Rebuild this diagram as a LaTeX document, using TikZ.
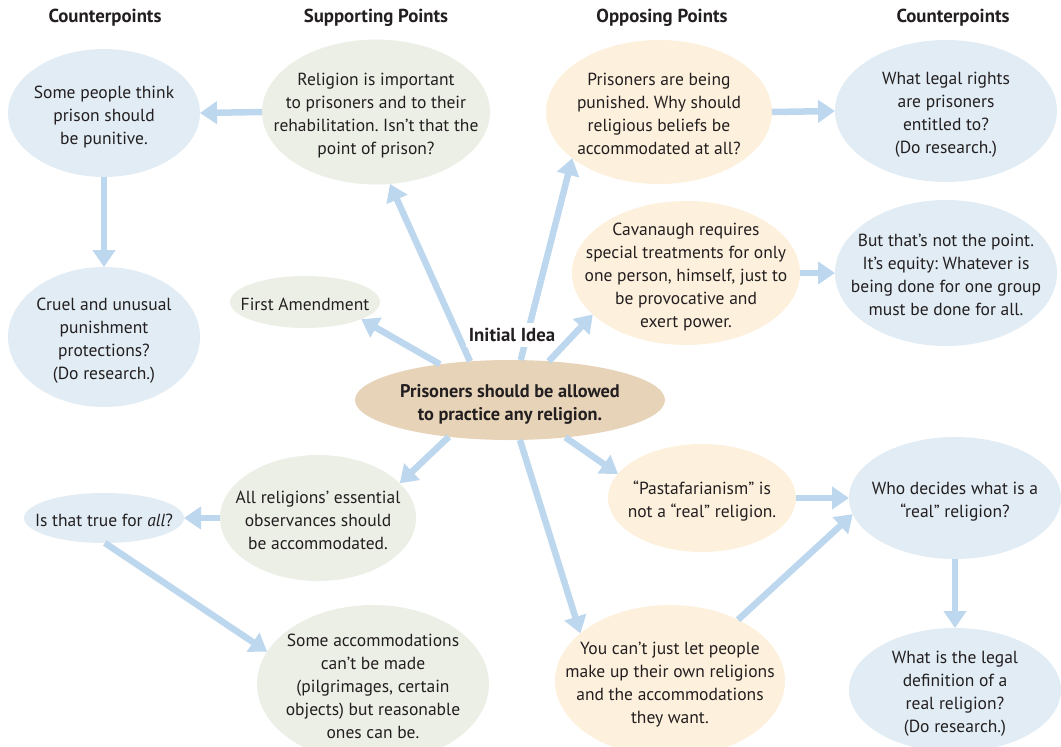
\documentclass[tikz,border=0pt]{standalone}
\usepackage{fontspec}
\setmainfont{PT Sans}
\usetikzlibrary{arrows.meta,shapes.geometric}
\frenchspacing

\definecolor{ink}{HTML}{231F20}
\definecolor{bluefill}{HTML}{E1ECF4}
\definecolor{greenfill}{HTML}{ECEFE6}
\definecolor{orangefill}{HTML}{FDF0DC}
\definecolor{tanfill}{HTML}{E6D3B8}
\definecolor{arrowblue}{HTML}{BDD7EE}

% centred multi-line text that does not widen its ellipse
\newcommand\bubtext[1]{\makebox[0pt]{\raisebox{-0.45em}{\begin{tabular}{@{}c@{}}#1\end{tabular}}}}

\tikzset{
  bub/.style={ellipse, inner sep=0pt, outer sep=0pt, text height=0pt, text depth=0pt,
    text=ink, font=\fontsize{17.5}{23}\selectfont},
  blueb/.style={bub, fill=bluefill},
  greenb/.style={bub, fill=greenfill},
  orangeb/.style={bub, fill=orangefill},
  head/.style={text=ink, font=\fontsize{18.8}{22}\selectfont\bfseries},
  arr/.style={draw=arrowblue, line width=6.5pt,
    -{Triangle[length=17pt,width=22pt]}},
}

\begin{document}
\begin{tikzpicture}[x=1pt,y=-1pt]
\path[use as bounding box] (0,0) rectangle (1061,747);
\clip (0,0) rectangle (1061,747);

% column headings
\node[head] (hcl) at (105,18) {Counterpoints};
\node[head] (hsp) at (376,18) {Supporting Points};
\node[head] (hop) at (662,18) {Opposing Points};
\node[head] (hcr) at (953,18) {Counterpoints};

% top row
\node[blueb, minimum width=192, minimum height=128] (cpL) at (104,113)
  {\bubtext{Some people think\\prison should\\be punitive.}};
\node[greenb, minimum width=228, minimum height=145] (sup) at (376,112)
  {\bubtext{Religion is important\\to prisoners and to their\\rehabilitation. Isn’t that the\\point of prison?}};
\node[orangeb, minimum width=226, minimum height=144] (opp) at (659,112)
  {\bubtext{Prisoners are being\\punished. Why should\\religious beliefs be\\accommodated at all?}};
\node[blueb, minimum width=222, minimum height=142] (cpR) at (946,111)
  {\bubtext{What legal rights\\are prisoners\\entitled to?\\(Do research.)}};

% middle row
\node[blueb, minimum width=192, minimum height=140] (cruel) at (104,337)
  {\bubtext{Cruel and unusual\\punishment\\protections?\\(Do research.)}};
\node[greenb, minimum width=150, minimum height=52] (first) at (305,302)
  {\bubtext{First Amendment}};
\node[orangeb, minimum width=228, minimum height=144] (cav) at (686,273)
  {\bubtext{Cavanaugh requires\\special treatments for only\\one person, himself, just to\\be provocative and\\exert power.}};
\node[blueb, minimum width=222, minimum height=146] (but) at (946,273)
  {\bubtext{But that’s not the point.\\It’s equity: Whatever is\\being done for one group\\must be done for all.}};

% initial idea
\node[bub, fill=tanfill, minimum width=310, minimum height=80,
  font=\fontsize{18.3}{23}\selectfont\bfseries] (ctr) at (510,400)
  {\bubtext{Prisoners should be allowed\\to practice any religion.}};

% lower rows
\node[greenb, minimum width=196, minimum height=126] (allrel) at (318,518)
  {\bubtext{All religions’ essential\\observances should\\be accommodated.}};
\node[blueb, minimum width=160, minimum height=50] (istrue) at (104,518)
  {\bubtext{Is that true for \textit{all}?}};
\node[greenb, minimum width=232, minimum height=158] (someacc) at (373,684)
  {\bubtext{Some accommodations\\can’t be made\\(pilgrimages, certain\\objects) but reasonable\\ones can be.}};
\node[orangeb, minimum width=188, minimum height=108] (pasta) at (702,498)
  {\bubtext{“Pastafarianism” is\\not a “real” religion.}};
\node[blueb, minimum width=212, minimum height=122] (who) at (955,498)
  {\bubtext{Who decides what is a\\“real” religion?}};
\node[orangeb, minimum width=230, minimum height=152] (youcant) at (670,681)
  {\bubtext{You can’t just let people\\make up their own religions\\and the accommodations\\they want.}};
\node[blueb, minimum width=212, minimum height=124] (whatis) at (955,690)
  {\bubtext{What is the legal\\definition of a\\real religion?\\(Do research.)}};

% connectors
\draw[arr] (sup.180) -- (cpL.0);
\draw[arr] (cpL.-90) -- (cruel.90);
\draw[arr] (opp.0) -- (cpR.180);
\draw[arr] (cav.0) -- (but.180);
\draw[arr] (ctr.136.5) -- (sup.-79.6);
\draw[arr] (ctr.153.4) -- (first.-17.5);
\draw[arr] (ctr.75.3) -- (opp.208.3);
\draw[arr] (ctr.45) -- (cav.204.3);
\draw[arr] (ctr.211.7) -- (allrel.23.8);
\draw[arr] (allrel.180) -- (istrue.0);
\draw[arr] (istrue.-88) -- (someacc.163.9);
\draw[arr] (ctr.-34) -- (pasta.164.3);
\draw[arr] (ctr.-76) -- (youcant.152);
\draw[arr] (pasta.0) -- (who.180);
\draw[arr] (youcant.42.8) -- (who.189.4);
\draw[arr] (who.-90) -- (whatis.90);

% label on a white patch over the connectors
\node[head, fill=white, inner xsep=3pt, inner ysep=5pt] (lbl) at (512,335) {Initial Idea};
\end{tikzpicture}
\end{document}
